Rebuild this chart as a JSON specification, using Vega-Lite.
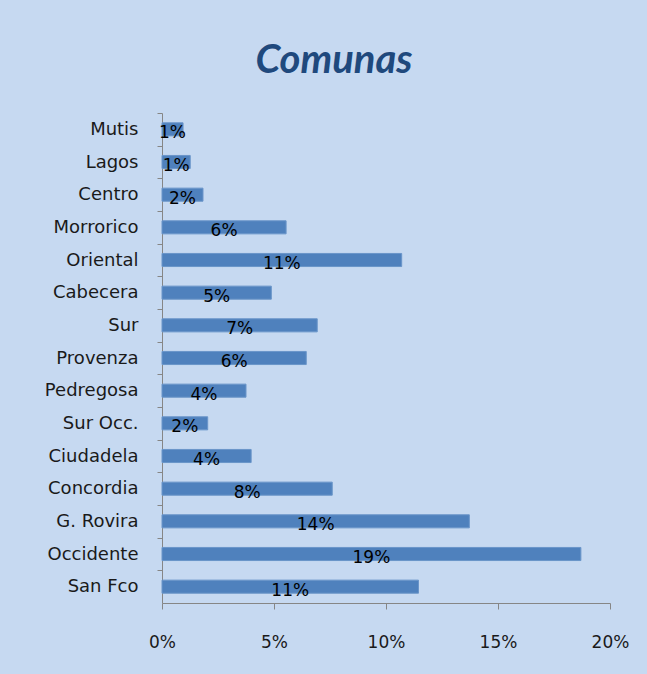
{
  "$schema": "https://vega.github.io/schema/vega-lite/v6.json",
  "autosize": {"type": "none"},
  "width": 448,
  "height": 490,
  "padding": {"left": 162, "top": 113, "right": 37, "bottom": 71},
  "background": "#c6d9f1",
  "title": {
    "text": "Comunas",
    "font": "Lato",
    "fontSize": 40,
    "fontWeight": "bold",
    "fontStyle": "italic",
    "color": "#1f497d",
    "anchor": "middle",
    "dx": -52,
    "offset": 0,
    "baseline": "alphabetic"
  },
  "data": {
    "values": [
      {"comuna": "Mutis", "pct": 0.0094},
      {"comuna": "Lagos", "pct": 0.0126},
      {"comuna": "Centro", "pct": 0.0183},
      {"comuna": "Morrorico", "pct": 0.0554},
      {"comuna": "Oriental", "pct": 0.1070},
      {"comuna": "Cabecera", "pct": 0.0488},
      {"comuna": "Sur", "pct": 0.0693},
      {"comuna": "Provenza", "pct": 0.0644},
      {"comuna": "Pedregosa", "pct": 0.0375},
      {"comuna": "Sur Occ.", "pct": 0.0204},
      {"comuna": "Ciudadela", "pct": 0.0398},
      {"comuna": "Concordia", "pct": 0.0760},
      {"comuna": "G. Rovira", "pct": 0.1372},
      {"comuna": "Occidente", "pct": 0.1870},
      {"comuna": "San Fco", "pct": 0.1145}
    ]
  },
  "encoding": {
    "y": {
      "field": "comuna",
      "type": "nominal",
      "sort": null,
      "scale": {"paddingInner": 0.6, "paddingOuter": 0.3},
      "axis": {
        "title": null,
        "tickBand": "center",
        "tickOffset": -16.33,
        "labelOffset": 16.33,
        "domainColor": "#868686",
        "tickColor": "#868686",
        "tickSize": 5,
        "labelFont": "DejaVu Sans",
        "labelFontSize": 18,
        "labelColor": "#1a1a1a",
        "labelPadding": 19
      }
    },
    "x": {
      "field": "pct",
      "type": "quantitative",
      "scale": {"domain": [0, 0.2], "nice": false},
      "axis": {
        "title": null,
        "format": ".0%",
        "values": [0, 0.05, 0.1, 0.15, 0.2],
        "grid": false,
        "domainColor": "#868686",
        "tickColor": "#868686",
        "tickSize": 6,
        "labelFont": "DejaVu Sans",
        "labelFontSize": 17,
        "labelColor": "#1a1a1a",
        "labelPadding": 25,
        "labelFlush": false
      }
    }
  },
  "layer": [
    {
      "mark": {"type": "bar", "color": "#4f81bd", "stroke": "#6a95c9", "strokeWidth": 1}
    },
    {
      "transform": [{"calculate": "datum.pct / 2", "as": "mid"}],
      "mark": {"type": "text", "font": "DejaVu Sans", "fontSize": 17, "color": "#000000", "baseline": "middle", "dy": 4},
      "encoding": {
        "x": {"field": "mid", "type": "quantitative"},
        "text": {"field": "pct", "type": "quantitative", "format": ".0%"}
      }
    }
  ],
  "config": {"view": {"stroke": null}}
}
